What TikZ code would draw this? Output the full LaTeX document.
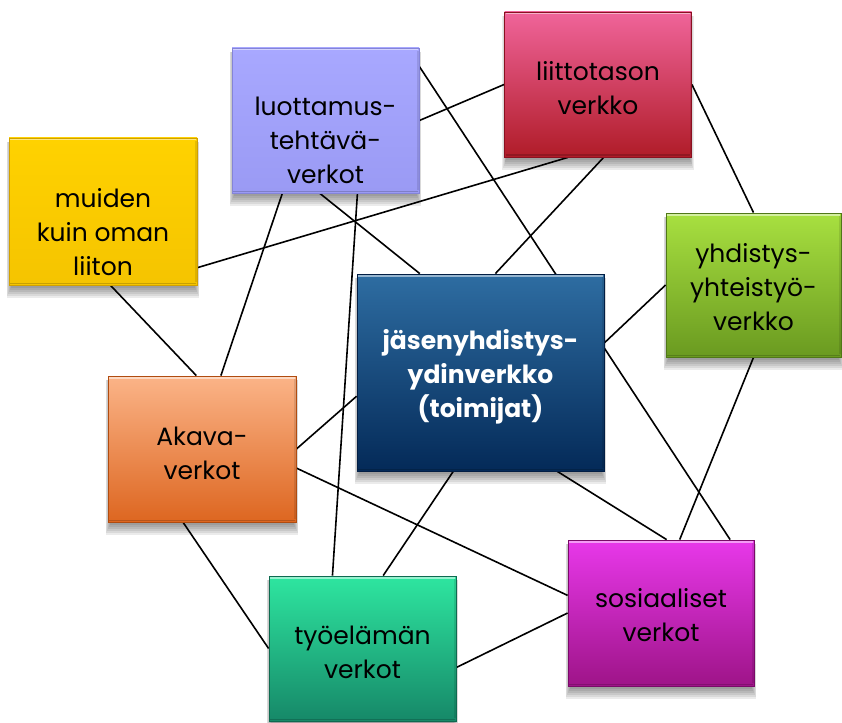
\documentclass[tikz,border=0pt]{standalone}
\usepackage{fontspec}
\setmainfont{Poppins}
\usetikzlibrary{calc}
\pgfdeclarelayer{edges}
\pgfdeclarelayer{shadows}
\pgfsetlayers{edges,shadows,main}

\definecolor{lTop}{HTML}{A8A8FF}\definecolor{lBot}{HTML}{9A9AF4}\definecolor{lEdge}{HTML}{8484D8}
\definecolor{tTop}{HTML}{F0649A}\definecolor{tBot}{HTML}{B01C28}\definecolor{tEdge}{HTML}{8A1020}
\definecolor{mTop}{HTML}{FFD200}\definecolor{mBot}{HTML}{F5C400}\definecolor{mEdge}{HTML}{D0A000}
\definecolor{yTop}{HTML}{A8E040}\definecolor{yBot}{HTML}{6A9A20}\definecolor{yEdge}{HTML}{507818}
\definecolor{jTop}{HTML}{2E6DA2}\definecolor{jBot}{HTML}{042A58}\definecolor{jEdge}{HTML}{021E44}
\definecolor{aTop}{HTML}{FBB488}\definecolor{aBot}{HTML}{DD6620}\definecolor{aEdge}{HTML}{B04C10}
\definecolor{wTop}{HTML}{2EE6A0}\definecolor{wBot}{HTML}{168868}\definecolor{wEdge}{HTML}{0E6A50}
\definecolor{sTop}{HTML}{E838EA}\definecolor{sBot}{HTML}{9E1488}\definecolor{sEdge}{HTML}{7A0A68}

\tikzset{
  box/.style={rectangle, inner sep=0pt, minimum width=187pt, minimum height=145pt, line width=0.8pt},
  lbl/.style={align=center, inner sep=0pt, font=\fontsize{25}{34}\selectfont, text=black},
  conn/.style={line width=1.6pt, black},
}

\begin{document}
\begin{tikzpicture}[x=1pt, y=-1pt]
\useasboundingbox (0,0) rectangle (842,722);

% boxes
\node[box, top color=lTop, bottom color=lBot, draw=lEdge] (L) at (325.5,120.5) {};
\node[box, top color=tTop, bottom color=tBot, draw=tEdge] (T) at (598,84.5) {};
\node[box, top color=mTop, bottom color=mBot, draw=mEdge, minimum width=188pt, minimum height=147pt] (M) at (103,211.5) {};
\node[box, top color=yTop, bottom color=yBot, draw=yEdge, minimum width=175pt, minimum height=144pt] (Y) at (753.5,285) {};
\node[box, top color=jTop, bottom color=jBot, draw=jEdge, minimum width=247pt, minimum height=197pt] (J) at (480.5,372.5) {};
\node[box, top color=aTop, bottom color=aBot, draw=aEdge, minimum width=188pt, minimum height=146pt] (A) at (202,449) {};
\node[box, top color=wTop, bottom color=wBot, draw=wEdge] (W) at (362.5,648.5) {};
\node[box, top color=sTop, bottom color=sBot, draw=sEdge, minimum width=186pt, minimum height=146pt] (S) at (661,613) {};

% bevel highlights
\foreach \n in {L,T,M,Y,J,A,W,S}{
  \draw[white, opacity=0.5, line width=1.8pt] ($(\n.north west)+(1.5,2)$) -- ($(\n.north east)+(-1.5,2)$);
  \draw[black, opacity=0.18, line width=1.8pt] ($(\n.south west)+(1.5,-2)$) -- ($(\n.south east)+(-1.5,-2)$);
  \draw[black, opacity=0.10, line width=1.5pt] ($(\n.north east)+(-1.5,3)$) -- ($(\n.south east)+(-1.5,-3)$);
}

% shadows
\begin{pgfonlayer}{shadows}
\foreach \n in {L,T,M,Y,J,A,W,S}{
  \foreach \s in {0,2,4,6,8,10}{
    \fill[black, opacity=0.08] ($(\n.north west)+(-\s*0.4+2,4)$) rectangle ($(\n.south east)+(\s*0.4-2,3+\s)$);
  }
}
\end{pgfonlayer}

% labels
\node[lbl] (Lt) at ($(L.center)+(0,19.5)$) {luottamus-\\tehtävä-\\verkot};
\node[lbl] (Tt) at ($(T.center)+(0,3.5)$) {liittotason\\verkko};
\node[lbl] (Mt) at ($(M.center)+(0,21)$) {muiden\\kuin oman\\liiton};
\node[lbl] (Yt) at ($(Y.center)+(0,2)$) {yhdistys-\\yhteistyö-\\verkko};
\node[lbl, text=white, font=\fontsize{25}{34}\selectfont\bfseries] (Jt) at ($(J.center)+(0,4)$) {jäsenyhdistys-\\ydinverkko\\(toimijat)};
\node[lbl] (At) at ($(A.center)+(0,4)$) {Akava-\\verkot};
\node[lbl] (Wt) at ($(W.center)+(0,4)$) {työelämän\\verkot};
\node[lbl] (St) at ($(S.center)+(0,2)$) {sosiaaliset\\verkot};

% connectors
\begin{pgfonlayer}{edges}
\draw[conn] (L.east) -- (T.west);
\draw[conn] ($(L.north east)!0.13!(L.south east)$) -- ($(S.north west)!0.87!(S.north east)$);
\draw[conn] ($(L.south west)!0.47!(L.south east)$) -- ($(J.north west)!0.255!(J.north east)$);
\draw[conn] ($(L.south west)!0.27!(L.south east)$) -- ($(A.north west)!0.60!(A.north east)$);
\draw[conn] ($(L.south west)!0.67!(L.south east)$) -- ($(W.north west)!0.34!(W.north east)$);
\draw[conn] ($(T.south west)!0.34!(T.south east)$) -- ($(M.north east)!0.88!(M.south east)$);
\draw[conn] ($(T.south west)!0.53!(T.south east)$) -- ($(J.north west)!0.56!(J.north east)$);
\draw[conn] (T.east) -- (Y.north);
\draw[conn] ($(M.south west)!0.54!(M.south east)$) -- ($(A.north west)!0.47!(A.north east)$);
\draw[conn] (Y.west) -- ($(J.north east)!0.35!(J.south east)$);
\draw[conn] (Y.south) -- ($(S.north west)!0.60!(S.north east)$);
\draw[conn] ($(J.north west)!0.62!(J.south west)$) -- (A.east);
\draw[conn] ($(J.south west)!0.81!(J.south east)$) -- ($(S.north west)!0.53!(S.north east)$);
\draw[conn] ($(J.south west)!0.39!(J.south east)$) -- ($(W.north west)!0.61!(W.north east)$);
\draw[conn] ($(A.north east)!0.63!(A.south east)$) -- ($(S.north west)!0.38!(S.south west)$);
\draw[conn] ($(A.south west)!0.40!(A.south east)$) -- (W.west);
\draw[conn] ($(W.north east)!0.63!(W.south east)$) -- (S.west);
\end{pgfonlayer}
\end{tikzpicture}
\end{document}
